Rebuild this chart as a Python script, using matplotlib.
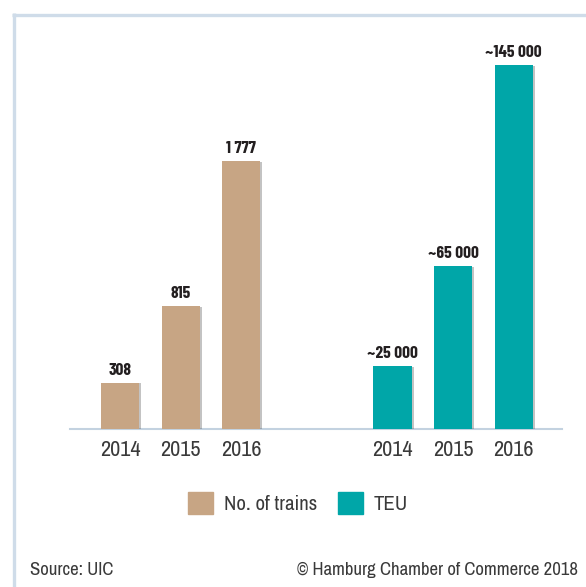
import matplotlib.pyplot as plt
import matplotlib.patheffects as pe
from matplotlib.lines import Line2D
from matplotlib.patches import Patch

years = ['2014', '2015', '2016']
trains = [308, 815, 1777]
teu = [25000, 65000, 145000]
train_labels = ['308', '815', '1 777']
teu_labels = ['~25 000', '~65 000', '~145 000']

tan = '#c7a584'
teal = '#00a6a8'
txt = '#231f20'
grey_txt = '#3a3a3a'

plt.rcParams['font.family'] = ['Archivo Narrow', 'DejaVu Sans']
lab_font = dict(family=['Barlow Condensed', 'DejaVu Sans'], weight='bold', size=12.5)

fig = plt.figure(figsize=(5.86, 5.87), dpi=100)
W, H = 586, 587
ax_left, ax_right, ax_base, ax_top = 70, 562, 429, 40
ax = fig.add_axes([ax_left / W, (H - ax_base) / H, (ax_right - ax_left) / W, (ax_base - ax_top) / H])
ax2 = ax.twinx()

# two value scales sharing one baseline
hpx = ax_base - ax_top
ax.set_ylim(0, hpx * 6.63)
ax2.set_ylim(0, hpx * 398.4)
ax.set_xlim(-0.83, 7.3)

x1 = [0, 1, 2]
x2 = [4.5, 5.5, 6.5]
bw = 0.63
shadow = [pe.SimplePatchShadow(offset=(1.5, -0.6), shadow_rgbFace='#555555', alpha=0.35), pe.Normal()]

b1 = ax.bar(x1, trains, width=bw, color=tan, zorder=3)
b2 = ax2.bar(x2, teu, width=bw, color=teal, zorder=3)
for b in list(b1) + list(b2):
    b.set_path_effects(shadow)

for x, v, s in zip(x1, trains, train_labels):
    ax.annotate(s, (x, v), xytext=(0, 3.5), textcoords='offset points', ha='center', va='bottom',
                color=txt, fontproperties=lab_font)
for x, v, s in zip(x2, teu, teu_labels):
    ax2.annotate(s, (x, v), xytext=(0, 3.5), textcoords='offset points', ha='center', va='bottom',
                 color=txt, fontproperties=lab_font)

for a in (ax, ax2):
    for sp in a.spines.values():
        sp.set_visible(False)
    a.set_yticks([])
ax.spines['bottom'].set_visible(True)
ax.spines['bottom'].set_color('#c3d2e0')
ax.spines['bottom'].set_linewidth(1.5)
ax.set_xticks(x1 + x2)
ax.set_xticklabels(years + years, fontsize=16, color=grey_txt)
ax.tick_params(axis='x', length=0, pad=8)

handles = [Patch(color=tan, label='No. of trains'), Patch(color=teal, label='TEU')]
fig.legend(handles=handles, loc='center', bbox_to_anchor=(298 / W, 1 - 503 / H), ncol=2,
           frameon=False, fontsize=15, handlelength=1.2, handleheight=1.2, handletextpad=0.5,
           columnspacing=1.0, labelcolor=grey_txt)

fig.text(30 / W, 1 - 570 / H, 'Source: UIC', fontsize=13.5, color=grey_txt, va='center', ha='left')
fig.text(578 / W, 1 - 570 / H, '© Hamburg Chamber of Commerce 2018', fontsize=13.5, color=grey_txt,
         va='center', ha='right')

border = '#cfdce9'
fig.add_artist(Line2D([13.5 / W, 13.5 / W], [0, 1 - 13 / H], color=border, lw=2.4,
                      solid_capstyle='butt'))
fig.add_artist(Line2D([12 / W, 1], [1 - 14.5 / H, 1 - 14.5 / H], color=border, lw=2.4,
                      solid_capstyle='butt'))

fig.savefig('out.png', dpi=100)
